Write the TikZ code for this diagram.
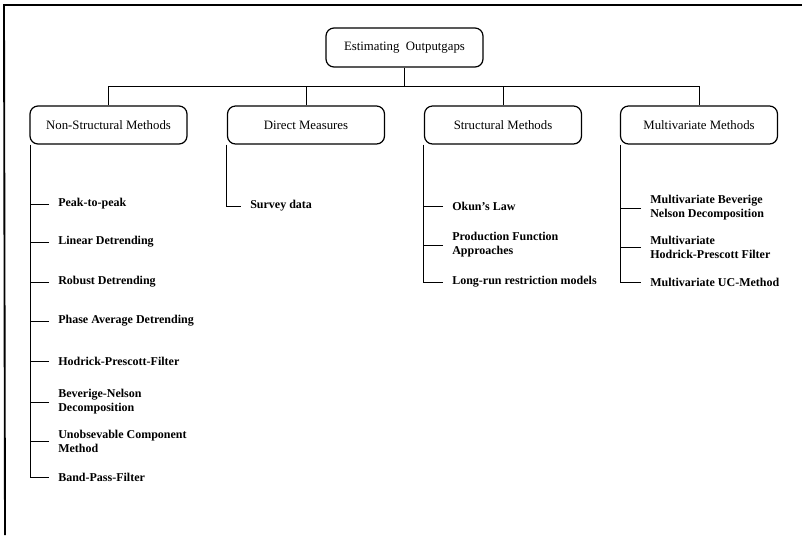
\documentclass[tikz,border=0pt]{standalone}
\usepackage{fontspec}
\setmainfont{Liberation Serif}
\begin{document}
\begin{tikzpicture}[x=0.75pt,y=-0.75pt,
  box/.style={draw,line width=0.9pt,rounded corners=6pt,minimum width=117.75pt,minimum height=28.5pt,inner sep=0pt,font=\fontsize{9.6}{11}\selectfont},
  item/.style={anchor=west,align=left,inner xsep=6.75pt,inner ysep=0pt,font=\fontsize{9}{10.5}\selectfont\bfseries},
  conn/.style={line width=0.7pt},
  frame/.style={line width=1.4pt}]
\useasboundingbox (0,0) rectangle (802,537);
% outer frame
\coordinate (fa) at (4,5);
\coordinate (fb) at (802,5);
\coordinate (fc) at (5,535);
\draw[frame] (fb) -- (fa) -- (fc);
% root and categories
\node[box,minimum height=29.25pt] (root) at (404.5,47.5) {Estimating\ \ Outputgaps};
\node[box] (c1) at (108.5,125) {Non-Structural Methods};
\node[box] (c2) at (306,125) {Direct Measures};
\node[box] (c3) at (503,125) {Structural Methods};
\node[box] (c4) at (699,125) {Multivariate Methods};
\coordinate (bus) at (404.5,86.5);
\draw[conn] (root.south) -- (bus);
\draw[conn] (c1.north) |- (bus) -| (c4.north);
\draw[conn] (c2.north) -- (c2.north |- bus);
\draw[conn] (c3.north) -- (c3.north |- bus);
% Non-structural items
\node[item] (a1) at (49,204) {Peak-to-peak};
\node[item] (a2) at (49,242) {Linear Detrending};
\node[item] (a3) at (49,282) {Robust Detrending};
\node[item] (a4) at (49,321) {Phase Average Detrending};
\node[item] (a5) at (49,361) {Hodrick-Prescott-Filter};
\node[item] (a6) at (49,402) {Beverige-Nelson\\Decomposition};
\node[item] (a7) at (49,441) {Unobsevable Component\\Method};
\node[item] (a8) at (49,477) {Band-Pass-Filter};
\coordinate (t1) at ([xshift=0.6pt]c1.south west);
\draw[conn] (t1) |- (a8.west);
\foreach \i in {1,...,7} \draw[conn] (a\i.west) -- (a\i.west -| t1);
% Direct measures
\node[item] (b1) at (241,206) {Survey data};
\coordinate (t2) at ([xshift=0pt]c2.south west);
\draw[conn] (t2) |- (b1.west);
% Structural
\node[item] (s1) at (443,206) {Okun's Law};
\node[item] (s2) at (443,245) {Production Function\\Approaches};
\node[item] (s3) at (443,282) {Long-run restriction models};
\coordinate (t3) at ([xshift=-0.4pt]c3.south west);
\draw[conn] (t3) |- (s3.west);
\foreach \i in {1,2} \draw[conn] (s\i.west) -- (s\i.west -| t3);
% Multivariate
\node[item] (m1) at (641,208) {Multivariate Beverige\\Nelson Decomposition};
\node[item] (m2) at (641,247) {Multivariate\\Hodrick-Prescott Filter};
\node[item] (m3) at (641,282) {Multivariate UC-Method};
\coordinate (t4) at ([xshift=0.5pt]c4.south west);
\draw[conn] (t4) |- (m3.west);
\foreach \i in {1,2} \draw[conn] (m\i.west) -- (m\i.west -| t4);
\end{tikzpicture}
\end{document}
